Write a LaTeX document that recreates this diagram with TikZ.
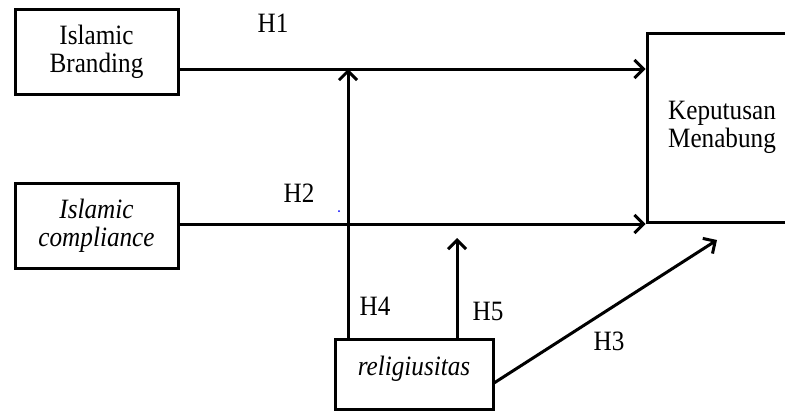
\documentclass[tikz,border=0pt]{standalone}
\usepackage{fontspec}
\setmainfont{Liberation Serif}[FakeStretch=0.9]
\usetikzlibrary{arrows.meta}
\begin{document}
\begin{tikzpicture}[x=1pt,y=-1pt,
  box/.style={draw,line width=3pt,inner sep=0pt,align=center,font=\fontsize{28}{28}\selectfont},
  arr/.style={line width=3pt,-{Straight Barb[length=9pt,width=18pt,line width=3pt]}},
  lbl/.style={font=\fontsize{28}{28}\selectfont,inner sep=0pt}]
\useasboundingbox (0,0) rectangle (785,410);
% boxes
\node[box,minimum width=163pt,minimum height=85pt] (IB) at (96.5,51.5) {Islamic\\Branding};
\node[box,minimum width=163pt,minimum height=85pt] (IC) at (96.5,225.5) {\itshape Islamic\\\itshape compliance};
\node[box,minimum width=150pt,minimum height=189pt] (KM) at (722,127.5) {Keputusan\\Menabung};
\node[box,minimum width=158pt,text height=36pt,text depth=34pt] (rel) at (414,374) {\itshape religiusitas};
% helper coordinates
\coordinate (h1y) at (0,69);
\coordinate (h2y) at (0,224);
\coordinate (h5y) at (0,238);
\coordinate (h3end) at (717,240);
\coordinate (h4foot) at (348,338);
\coordinate (h5foot) at (457,338);
\coordinate (h3start) at (494,383);
% connectors
\draw[arr] (IB.east |- h1y) -- (KM.west |- h1y);
\draw[arr] (IC.east |- h2y) -- (KM.west |- h2y);
\draw[arr] (h4foot) -- (h4foot |- h1y);
\draw[arr] (h5foot) -- (h5foot |- h5y);
\draw[arr] (h3start) -- (h3end);
% labels
\node[lbl] (L1) at (273,23) {H1};
\node[lbl] (L2) at (299,193) {H2};
\node[lbl] (L4) at (375,306) {H4};
\node[lbl] (L5) at (488,311) {H5};
\node[lbl] (L3) at (609,341) {H3};
\fill[blue] (339,211) circle (1pt);
\end{tikzpicture}
\end{document}
